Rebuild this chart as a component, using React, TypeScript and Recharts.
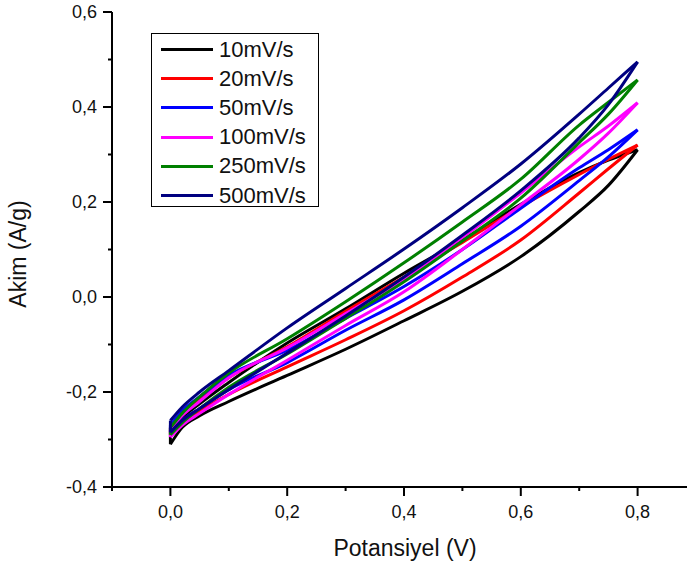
import { LineChart, Line, XAxis, YAxis } from "recharts";

// potential points (V) where both branches of every loop were read
const voltage = [0, 0.02, 0.05, 0.1, 0.2, 0.3, 0.4, 0.5, 0.6, 0.7, 0.75, 0.8];

const scanRates = ["10mV/s", "20mV/s", "50mV/s", "100mV/s", "250mV/s", "500mV/s"];
const colors = ["#000000", "#ff0000", "#0000ff", "#ff00ff", "#008000", "#000080"];

// current (A/g), lower and upper branch of each loop
const low10 = [-0.31, -0.275, -0.25, -0.22, -0.165, -0.11, -0.05, 0.012, 0.085, 0.18, 0.235, 0.31];
const up10 = [-0.285, -0.255, -0.225, -0.18, -0.097, -0.025, 0.05, 0.12, 0.195, 0.262, 0.288, 0.31];
const low20 = [-0.29, -0.265, -0.24, -0.205, -0.147, -0.09, -0.029, 0.042, 0.12, 0.219, 0.27, 0.32];
const up20 = [-0.275, -0.245, -0.215, -0.17, -0.105, -0.03, 0.042, 0.115, 0.19, 0.258, 0.29, 0.32];
const low50 = [-0.285, -0.26, -0.235, -0.195, -0.138, -0.07, -0.006, 0.07, 0.149, 0.245, 0.295, 0.352];
const up50 = [-0.27, -0.24, -0.21, -0.165, -0.112, -0.045, 0.022, 0.1, 0.187, 0.272, 0.31, 0.352];
const low100 = [-0.295, -0.27, -0.245, -0.205, -0.133, -0.06, 0.011, 0.1, 0.194, 0.29, 0.345, 0.409];
const up100 = [-0.28, -0.25, -0.22, -0.17, -0.107, -0.035, 0.038, 0.125, 0.219, 0.316, 0.36, 0.409];
const low250 = [-0.29, -0.265, -0.235, -0.19, -0.12, -0.045, 0.032, 0.118, 0.208, 0.325, 0.385, 0.457];
const up250 = [-0.275, -0.245, -0.21, -0.16, -0.088, -0.01, 0.072, 0.158, 0.248, 0.362, 0.41, 0.457];
const low500 = [-0.285, -0.26, -0.235, -0.195, -0.118, -0.04, 0.042, 0.13, 0.224, 0.335, 0.405, 0.495];
const up500 = [-0.26, -0.232, -0.2, -0.155, -0.065, 0.018, 0.101, 0.188, 0.28, 0.385, 0.44, 0.495];

const lowBranches = [low10, low20, low50, low100, low250, low500];
const upBranches = [up10, up20, up50, up100, up250, up500];

const xTicks = [-0.1, 0, 0.1, 0.2, 0.3, 0.4, 0.5, 0.6, 0.7, 0.8, 0.9];
const yTicks = [-0.4, -0.3, -0.2, -0.1, 0, 0.1, 0.2, 0.3, 0.4, 0.5, 0.6];

const FONT = "'Liberation Sans', Arial, sans-serif";

const fmt = (v: number) => v.toFixed(1).replace(".", ",");
const isMajor = (v: number) => Math.abs(Math.round(v * 10)) % 2 === 0;

const toPoints = (arr: number[]) => voltage.map((v, k) => ({ v, i: arr[k] }));

function BottomTick(props: any) {
  const { x, y, payload } = props;
  const v = payload.value;
  const top = y - 18;
  const major = isMajor(v) && v >= 0 && v <= 0.8;
  return (
    <g>
      <line x1={x} y1={top} x2={x} y2={top + (major ? 9 : 4)} stroke="#000" strokeWidth={2} />
      {major && (
        <text x={x} y={y} dy="0.71em" textAnchor="middle" fontSize={18} fontFamily={FONT} fill="#111">
          {fmt(v)}
        </text>
      )}
    </g>
  );
}

function LeftTick(props: any) {
  const { x, y, payload } = props;
  const v = payload.value;
  const right = x + 15;
  const major = isMajor(v);
  return (
    <g>
      <line x1={right} y1={y} x2={right - (major ? 9 : 4)} y2={y} stroke="#000" strokeWidth={2} />
      {major && (
        <text x={x} y={y} dy="0.355em" textAnchor="end" fontSize={18} fontFamily={FONT} fill="#111">
          {fmt(v)}
        </text>
      )}
    </g>
  );
}

function TopTick(props: any) {
  const { x, y } = props;
  return <line x1={x} y1={y} x2={x} y2={y + 3} stroke="#000" strokeWidth={1.5} />;
}

export default function App() {
  return (
    <div
      style={{
        position: "absolute",
        left: 0,
        top: 0,
        width: 687,
        height: 567,
        overflow: "hidden",
        background: "#fff",
        fontFamily: FONT,
      }}
    >
      <LineChart width={720} height={567} margin={{ top: 12, right: 24, bottom: 0, left: 0 }}>
        <XAxis
          type="number"
          dataKey="v"
          domain={[-0.1, 0.9]}
          allowDataOverflow
          ticks={xTicks}
          interval={0}
          tickLine={false}
          tickSize={9}
          tickMargin={9}
          tick={<BottomTick />}
          axisLine={{ stroke: "#000", strokeWidth: 2 }}
          height={80}
          label={() => (
            <text x={405} y={556} textAnchor="middle" fontSize={23} fontFamily={FONT} fill="#111">
              Potansiyel (V)
            </text>
          )}
        />
        <XAxis
          xAxisId="top"
          orientation="top"
          type="number"
          domain={[-0.1, 0.9]}
          allowDataOverflow
          ticks={xTicks}
          interval={0}
          tickLine={false}
          tickSize={0}
          tickMargin={0}
          tick={<TopTick />}
          axisLine={{ stroke: "#000", strokeWidth: 1.5 }}
          height={0}
        />
        <YAxis
          type="number"
          domain={[-0.4, 0.6]}
          allowDataOverflow
          ticks={yTicks}
          interval={0}
          tickLine={false}
          tickSize={9}
          tickMargin={6}
          tick={<LeftTick />}
          axisLine={{ stroke: "#000", strokeWidth: 2 }}
          width={112}
          label={() => (
            <text
              x={18}
              y={254}
              transform="rotate(-90 18 254)"
              textAnchor="middle"
              dominantBaseline="central"
              fontSize={23}
              fontFamily={FONT}
              fill="#111"
            >
              Akim (A/g)
            </text>
          )}
        />
        {scanRates.map((name, s) => {
          const lo = toPoints(lowBranches[s]);
          const up = toPoints(upBranches[s]);
          return [
            <Line
              key={name + "-join"}
              data={[lo[0], up[0]]}
              dataKey="i"
              type="linear"
              stroke={colors[s]}
              strokeWidth={3}
              dot={false}
              isAnimationActive={false}
            />,
            <Line
              key={name + "-lo"}
              data={lo}
              dataKey="i"
              type="monotone"
              stroke={colors[s]}
              strokeWidth={3}
              dot={false}
              isAnimationActive={false}
            />,
            <Line
              key={name + "-up"}
              data={up}
              dataKey="i"
              type="monotone"
              stroke={colors[s]}
              strokeWidth={3}
              dot={false}
              isAnimationActive={false}
            />,
          ];
        })}
      </LineChart>

      {/* legend box */}
      <div
        style={{
          position: "absolute",
          left: 151,
          top: 33,
          width: 168,
          height: 174,
          border: "1px solid #000",
          boxSizing: "border-box",
          paddingTop: 1,
        }}
      >
        {scanRates.map((name, s) => (
          <div key={name} style={{ display: "flex", alignItems: "center", height: 29.2 }}>
            <div style={{ marginLeft: 9, width: 52, height: 3, background: colors[s] }} />
            <span style={{ marginLeft: 6, fontSize: 22, color: "#111", lineHeight: "22px" }}>{name}</span>
          </div>
        ))}
      </div>
    </div>
  );
}
